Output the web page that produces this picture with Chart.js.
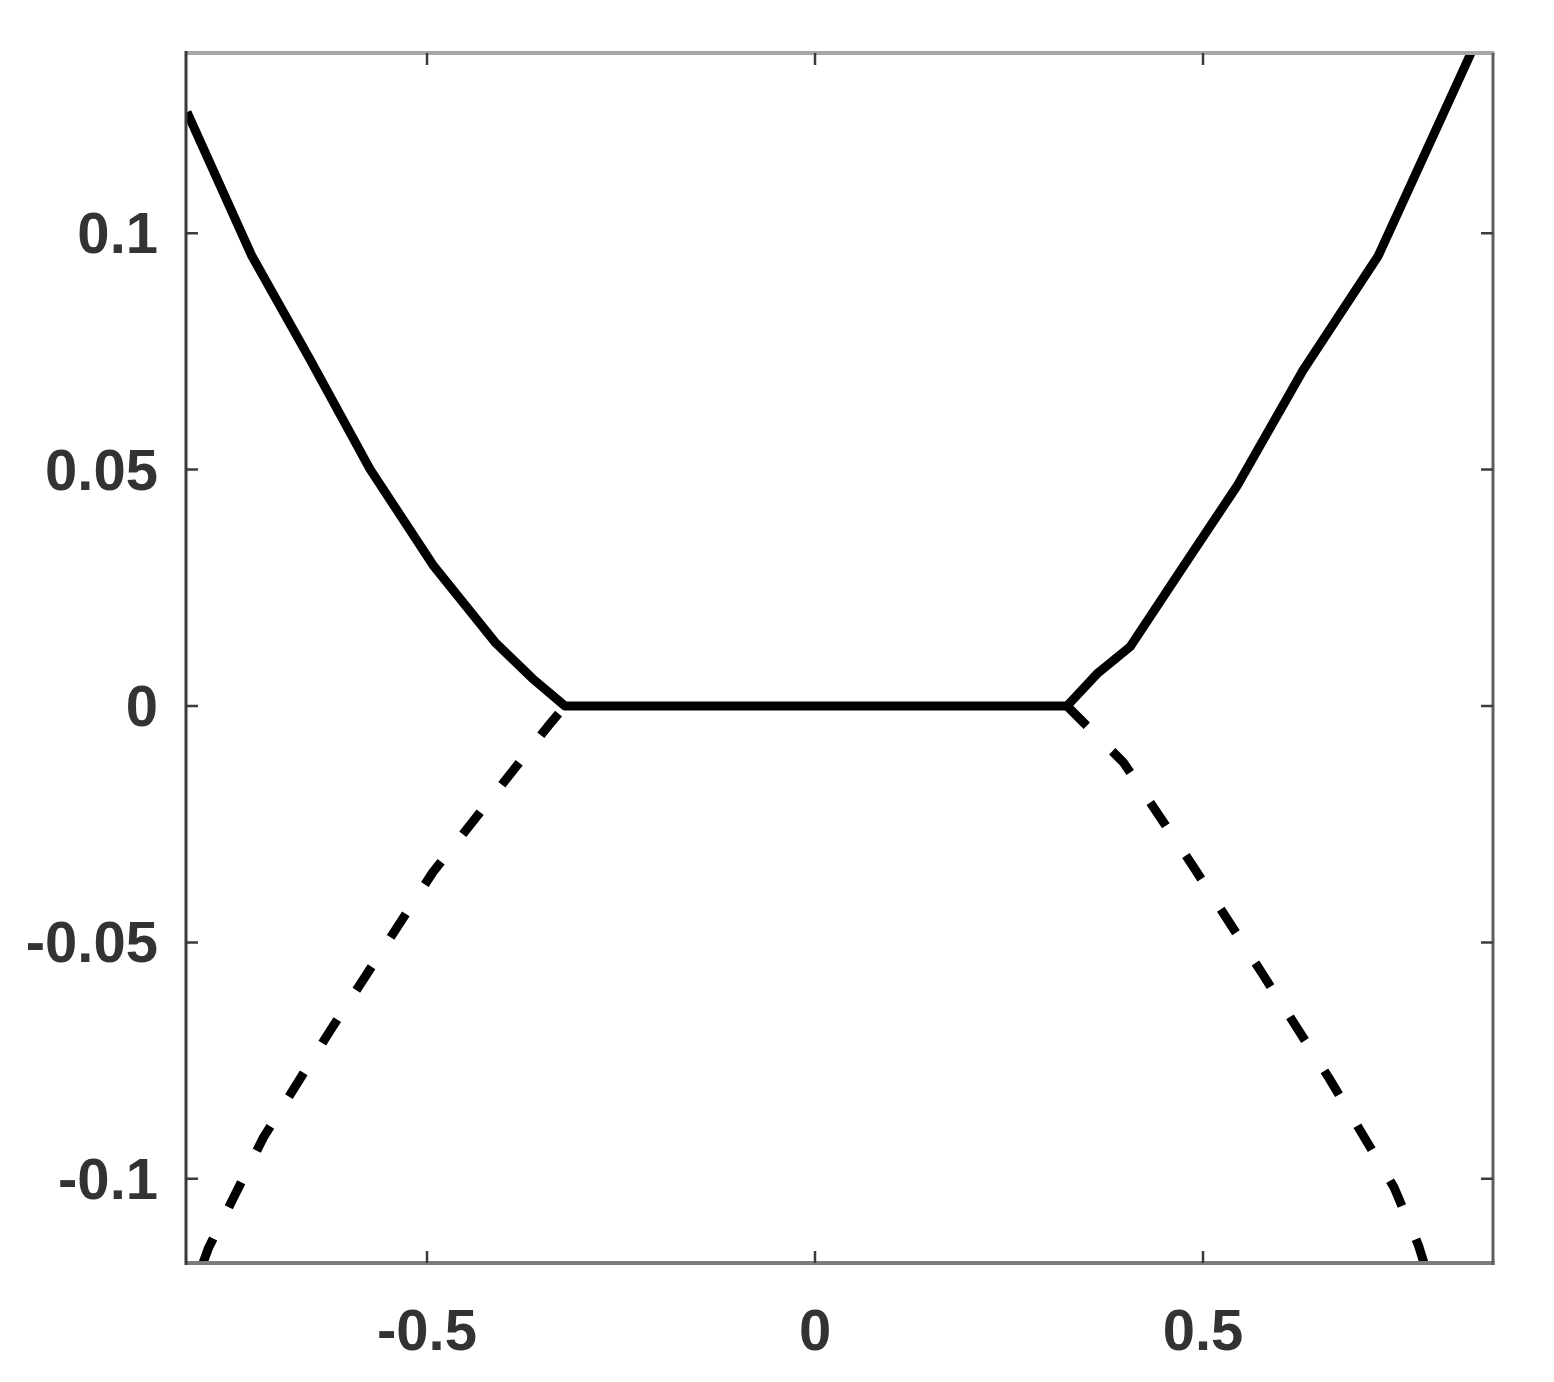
<!DOCTYPE html>
<html>
<head>
<meta charset="utf-8">
<script src="https://cdn.jsdelivr.net/npm/chart.js@4.4.1/dist/chart.umd.min.js"></script>
<style>
  html, body { margin: 0; padding: 0; background: #ffffff; }
  #wrap { width: 1554px; height: 1382px; }
</style>
</head>
<body>
<div id="wrap"><canvas id="c" width="1554" height="1382"></canvas></div>
<script>
// ---- data ----
const xRange = [-0.8106, 0.8737];
const yRange = [-0.1178, 0.1381];

const xTicks = [-0.5, 0, 0.5];
const xTickLabels = ['-0.5', '0', '0.5'];
const yTicks = [-0.1, -0.05, 0, 0.05, 0.1];
const yTickLabels = ['-0.1', '-0.05', '0', '0.05', '0.1'];

// solid branch (left arm, flat part, right arm)
const solidX = [-0.8093, -0.7255, -0.6508, -0.5735, -0.4923, -0.4124, -0.3640, -0.3222,
                 0.3247,  0.3634,  0.4059,  0.4742,  0.5438,  0.6289,  0.7255,  0.8454];
const solidY = [ 0.1256,  0.0951,  0.0733,  0.0501,  0.0298,  0.0135,  0.0058,  0.0,
                 0.0,     0.0068,  0.0125,  0.0294,  0.0465,  0.0710,  0.0951,  0.1381];

// dashed branches (from the junction outwards)
const leftDashX = [-0.3222, -0.3437, -0.4927, -0.6250, -0.7110, -0.7818, -0.7887];
const leftDashY = [ 0.0,    -0.0042, -0.0352, -0.0687, -0.0913, -0.1147, -0.1178];
const rightDashX = [0.3247, 0.3973, 0.4884, 0.5756, 0.6628, 0.7461, 0.7775, 0.7848];
const rightDashY = [0.0,   -0.0119, -0.0342, -0.0564, -0.0788, -0.1018, -0.1140, -0.1178];

// ---- build ----
const pts = (xs, ys) => xs.map((x, i) => ({ x: x, y: ys[i] }));

const FONT = { family: "'Liberation Sans', Arial, Helvetica, sans-serif", size: 58, weight: 'bold' };
const LABEL_COLOR = '#333333';

const framePlugin = {
  id: 'frame',
  afterDraw(chart) {
    const ctx = chart.ctx;
    const a = chart.chartArea;
    const xs = chart.scales.x, ys = chart.scales.y;
    ctx.save();
    ctx.lineCap = 'butt';
    const seg = (color, w, x1, y1, x2, y2) => {
      ctx.strokeStyle = color; ctx.lineWidth = w;
      ctx.beginPath(); ctx.moveTo(x1, y1); ctx.lineTo(x2, y2); ctx.stroke();
    };
    seg('#a6a6a6', 4, a.left, a.top, a.right + 1.5, a.top);       // top
    seg('#7c7c7c', 4, a.left, a.bottom, a.right + 1.5, a.bottom);  // bottom
    seg('#5e5e5e', 3, a.right, a.top, a.right, a.bottom + 2);      // right
    seg('#3a3a3a', 3, a.left, a.top - 2, a.left, a.bottom + 2);    // left
    // inward tick marks
    const tl = 12;
    ctx.strokeStyle = '#3c3c3c';
    ctx.lineWidth = 2.5;
    ctx.beginPath();
    xTicks.forEach(v => {
      const px = xs.getPixelForValue(v);
      ctx.moveTo(px, a.bottom); ctx.lineTo(px, a.bottom - tl);
      ctx.moveTo(px, a.top); ctx.lineTo(px, a.top + tl);
    });
    yTicks.forEach(v => {
      const py = ys.getPixelForValue(v);
      ctx.moveTo(a.left, py); ctx.lineTo(a.left + tl, py);
      ctx.moveTo(a.right, py); ctx.lineTo(a.right - tl, py);
    });
    ctx.stroke();
    ctx.restore();
  }
};

new Chart(document.getElementById('c'), {
  type: 'scatter',
  data: {
    datasets: [
      { data: pts(solidX, solidY), showLine: true, borderColor: '#000000', borderWidth: 9,
        pointRadius: 0, tension: 0, borderJoinStyle: 'round', borderCapStyle: 'butt' },
      { data: pts(leftDashX, leftDashY), showLine: true, borderColor: '#000000', borderWidth: 9,
        pointRadius: 0, tension: 0, borderDash: [28, 35], borderDashOffset: 53, borderCapStyle: 'butt' },
      { data: pts(rightDashX, rightDashY), showLine: true, borderColor: '#000000', borderWidth: 9,
        pointRadius: 0, tension: 0, borderDash: [28, 36], borderDashOffset: 0, borderCapStyle: 'butt' }
    ]
  },
  options: {
    responsive: false,
    devicePixelRatio: 1,
    animation: false,
    events: [],
    layout: { padding: { top: 53, right: 61, left: 0, bottom: 0 } },
    plugins: { legend: { display: false }, tooltip: { enabled: false } },
    scales: {
      x: {
        type: 'linear', min: xRange[0], max: xRange[1],
        grid: { display: false, drawTicks: false },
        border: { display: false },
        afterBuildTicks: s => { s.ticks = xTicks.map(v => ({ value: v })); },
        afterFit: s => { s.height = 119; s.paddingLeft = 0; s.paddingRight = 0; },
        ticks: {
          font: FONT, color: LABEL_COLOR, padding: 36, maxRotation: 0, autoSkip: false,
          callback: (v, i) => xTickLabels[i]
        }
      },
      y: {
        type: 'linear', min: yRange[0], max: yRange[1],
        grid: { display: false, drawTicks: false },
        border: { display: false },
        afterBuildTicks: s => { s.ticks = yTicks.map(v => ({ value: v })); },
        afterFit: s => { s.width = 186; s.paddingTop = 0; s.paddingBottom = 0; },
        ticks: {
          font: FONT, color: LABEL_COLOR, padding: 28, autoSkip: false, labelOffset: 4,
          callback: (v, i) => yTickLabels[i]
        }
      }
    }
  },
  plugins: [framePlugin]
});
</script>
</body>
</html>
